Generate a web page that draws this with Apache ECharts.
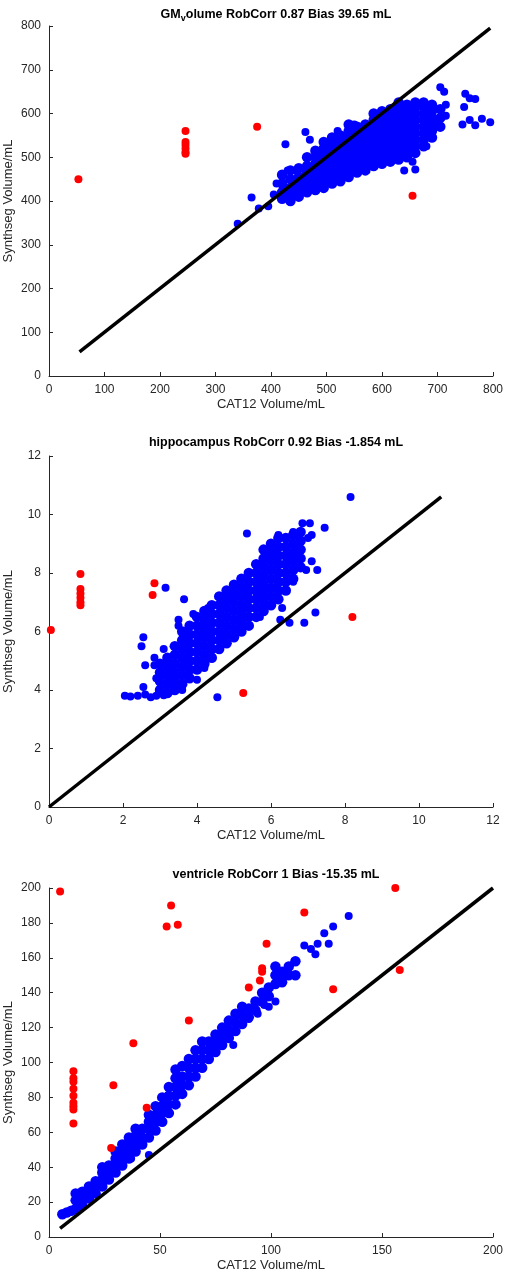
<!DOCTYPE html>
<html><head><meta charset="utf-8">
<script src="https://cdn.jsdelivr.net/npm/echarts@6/dist/echarts.min.js"></script>
<style>html,body{margin:0;padding:0;background:#fff}#c{width:507px;height:1280px}</style>
</head><body><div id="c"></div>
<script>
// ---- Panel 1: GM volume (columns: x -> list of y) ----
const gmCols = [
 [420,[405,420,440,460]],[435,[400,415,430,450,470]],[450,[410,425,440,455,475]],
 [465,[420,435,450,465,480,500]],[480,[425,440,455,470,485,500,515]],
 [495,[430,445,460,475,490,505,520,535]],[510,[440,455,470,485,500,515,530,545]],
 [525,[445,460,475,490,505,520,535,550]],[540,[455,470,485,500,515,530,545,560,575]],
 [555,[465,480,495,510,525,540,555,570]],[570,[470,485,500,515,530,545,560,575]],
 [585,[480,495,510,525,540,555,570,585,600]],[600,[485,500,515,530,545,560,575,590,605]],
 [615,[490,505,520,535,550,565,580,595,610]],[630,[495,510,525,540,555,570,585,600,615,625]],
 [645,[500,515,530,545,560,575,590,605,620]],[660,[510,525,540,555,570,585,600,615,625]],
 [675,[525,540,555,570,585,600,615,625]],[690,[545,560,575,590,605,620]],[705,[570,590,610]]
];
const gmBlueExtra = [[340,348],[365,408],[378,383],[395,388],[405,415],[410,440],[426,530],[462,558],[470,540],[520,560],[550,575],[660,472],[705,660],[712,650],[680,525],[745,575],[748,615],[750,645],[758,635],[768,633],[758,585],[768,573],[780,588],[795,580],[700,575],[715,595],[715,620],[640,470],[655,490],[445,470],[430,470]];
const gmRed = [[53,450],[246,560],[246,535],[246,528],[246,520],[246,512],[246,508],[375,570],[655,412]];
const gmLine = [[55,55],[795,795]];

// ---- Panel 2: hippocampus ----
const hipCols = [
 [3.0,[4.0,4.3,4.6,4.9]],[3.2,[3.9,4.2,4.5,4.8,5.1]],[3.4,[4.0,4.3,4.6,4.9,5.2,5.5]],
 [3.6,[4.2,4.5,4.8,5.1,5.4,5.7,6.0]],[3.8,[4.4,4.7,5.0,5.3,5.6,5.9,6.2]],[4.0,[4.7,5.0,5.3,5.6,5.9,6.2,6.5]],
 [4.2,[4.9,5.2,5.5,5.8,6.1,6.4,6.7]],[4.4,[5.1,5.4,5.7,6.0,6.3,6.6,6.9]],[4.6,[5.4,5.7,6.0,6.3,6.6,6.9,7.2]],
 [4.8,[5.6,5.9,6.2,6.5,6.8,7.1,7.4]],[5.0,[5.8,6.1,6.4,6.7,7.0,7.3,7.6]],[5.2,[6.0,6.3,6.6,6.9,7.2,7.5,7.8]],
 [5.4,[6.2,6.5,6.8,7.1,7.4,7.7,8.0]],[5.6,[6.5,6.8,7.1,7.4,7.7,8.0,8.3]],[5.8,[6.7,7.0,7.3,7.6,7.9,8.2,8.5,8.8]],
 [6.0,[6.9,7.2,7.5,7.8,8.1,8.4,8.7,9.0]],[6.2,[7.1,7.4,7.7,8.0,8.3,8.6,8.9,9.2]],[6.4,[7.4,7.7,8.0,8.3,8.6,8.9,9.2]],
 [6.6,[7.8,8.1,8.4,8.7,9.0,9.3]],[6.8,[8.2,8.5,8.8,9.1,9.4]]
];
const hipBlueExtra = [[2.05,3.8],[2.2,3.78],[2.4,3.8],[2.6,3.85],[2.75,3.75],[2.9,3.8],[3.1,3.82],[2.55,4.1],[2.5,5.5],[2.55,5.8],[2.6,4.85],[2.85,4.85],[2.85,5.1],[3.15,7.5],[3.65,7.1],[4.55,3.75],[4.0,4.35],[3.6,4.0],[4.2,4.75],[3.5,6.4],[3.5,6.2],[3.9,6.6],[4.3,6.8],[5.35,9.35],[6.25,6.4],[6.5,6.3],[6.9,6.3],[7.2,6.65],[6.85,9.7],[7.05,9.7],[7.45,9.55],[7.0,9.2],[7.1,9.3],[6.95,8.1],[7.25,8.1],[7.1,8.4],[6.6,7.7],[6.3,6.8],[5.7,6.5],[8.15,10.6],[6.6,9.4],[6.2,9.3],[2.9,4.4],[3.1,5.4]];
const hipRed = [[0.05,6.05],[0.85,7.97],[0.85,7.45],[0.85,7.3],[0.85,7.15],[0.85,7.0],[0.85,6.9],[2.85,7.65],[2.8,7.25],[5.25,3.9],[8.2,6.5]];
const hipLine = [[0,0],[10.6,10.6]];

// ---- Panel 3: ventricle ----
const venCols = [
 [6,[13]],[8,[14]],[10,[15]],[12,[16,21,25]],[15,[18,22,26]],[18,[22,26,29]],[21,[25,29,32]],
 [24,[29,33,37,40]],[27,[33,37,41]],[30,[37,41,45,49]],[33,[41,45,50,53]],[36,[45,49,54,57]],
 [39,[49,53,58,62]],[42,[53,57,62]],[45,[57,62,66,70]],[48,[61,66,70,75]],[51,[66,71,75,80]],
 [54,[71,76,81,86]],[57,[76,81,86,91,96]],[60,[82,87,92,98]],[63,[87,92,97,102]],[66,[92,97,102,107]],
 [69,[97,102,107,112]],[72,[102,107,112]],[75,[106,111,116]],[78,[110,115,120]],[81,[114,119,124]],
 [84,[118,123,128]],[87,[122,127,132]],[90,[126,131]],[93,[130,135]],[96,[135,140]],[99,[138,143]],
 [102,[145,150,155]],[105,[146,152]],[108,[150,155]],[111,[150,158]]
];
const venBlueExtra = [[115,167],[118,165],[120,162],[121,168],[124,174],[126,168],[128,178],[135,184],[45,47],[37,45],[99,132],[102,135],[105,148],[83,110],[90,125],[94,128],[97,133]];
const venRed = [[5,198],[11,95],[11,91],[11,89],[11,85],[11,81],[11,77],[11,75],[11,73],[11,65],[28,51],[29,87],[38,111],[44,74],[53,178],[55,190],[58,179],[63,124],[90,143],[95,147],[96,152],[96,154],[98,168],[115,186],[128,142],[156,200],[158,153]];
const venLine = [[5,5],[200,200]];

function expand(cols){const out=[];cols.forEach(c=>c[1].forEach(y=>out.push([c[0],y])));return out;}

const panels = [
 {title:'GM{s|v}olume RobCorr 0.87 Bias 39.65 mL', top:26, h:350, max:800, iv:100, cloud:expand(gmCols), blue:gmBlueExtra, red:gmRed, line:gmLine},
 {title:'hippocampus RobCorr 0.92 Bias -1.854 mL', top:456, h:351, max:12, iv:2, cloud:expand(hipCols), blue:hipBlueExtra, red:hipRed, line:hipLine},
 {title:'ventricle RobCorr 1 Bias -15.35 mL', top:888, h:349, max:200, iv:50, ymax:200, yiv:20, cloud:expand(venCols), blue:venBlueExtra, red:venRed, line:venLine}
];
const txt='#262626', ax='#262626';
const font='Liberation Sans, Arial, sans-serif';
const opt={animation:false,title:[],grid:[],xAxis:[],yAxis:[],series:[],textStyle:{fontFamily:font}};
panels.forEach((p,i)=>{
 opt.title.push({text:p.title,left:271,textAlign:'center',top:p.top-25,textStyle:{fontSize:12.5,fontWeight:'bold',color:'#000',fontFamily:font,rich:{s:{fontSize:9,fontWeight:'bold',verticalAlign:'bottom',padding:[8,0,0,0]}}}});
 opt.grid.push({left:49,right:14,top:p.top,height:p.h,containLabel:false,outerBoundsMode:'none'});
 const axCommon={axisLine:{show:true,lineStyle:{color:ax,width:1}},axisTick:{inside:true,length:4,lineStyle:{color:ax}},splitLine:{show:false},axisLabel:{color:txt,fontSize:12,fontFamily:font},nameTextStyle:{color:txt,fontSize:13,fontFamily:font},nameMoveOverlap:false};
 opt.xAxis.push(Object.assign({type:'value',gridIndex:i,min:0,max:p.max,interval:p.iv,name:'CAT12 Volume/mL',nameLocation:'middle',nameGap:22},axCommon));
 opt.yAxis.push(Object.assign({type:'value',gridIndex:i,min:0,max:p.ymax||p.max,interval:p.yiv||p.iv,name:'Synthseg Volume/mL',nameLocation:'middle',nameGap:34},axCommon));
 opt.series.push({type:'scatter',xAxisIndex:i,yAxisIndex:i,data:p.cloud,symbolSize:10.5,itemStyle:{color:'#0000ff',opacity:1},z:2});
 opt.series.push({type:'scatter',xAxisIndex:i,yAxisIndex:i,data:p.blue,symbolSize:8,itemStyle:{color:'#0000ff',opacity:1},z:2});
 opt.series.push({type:'line',xAxisIndex:i,yAxisIndex:i,data:p.line,symbol:'none',lineStyle:{color:'#000',width:3.5},z:3});
 opt.series.push({type:'scatter',xAxisIndex:i,yAxisIndex:i,data:p.red,symbolSize:8,itemStyle:{color:'#ff0000',opacity:1},z:4});
});
echarts.init(document.getElementById('c')).setOption(opt);
</script></body></html>
